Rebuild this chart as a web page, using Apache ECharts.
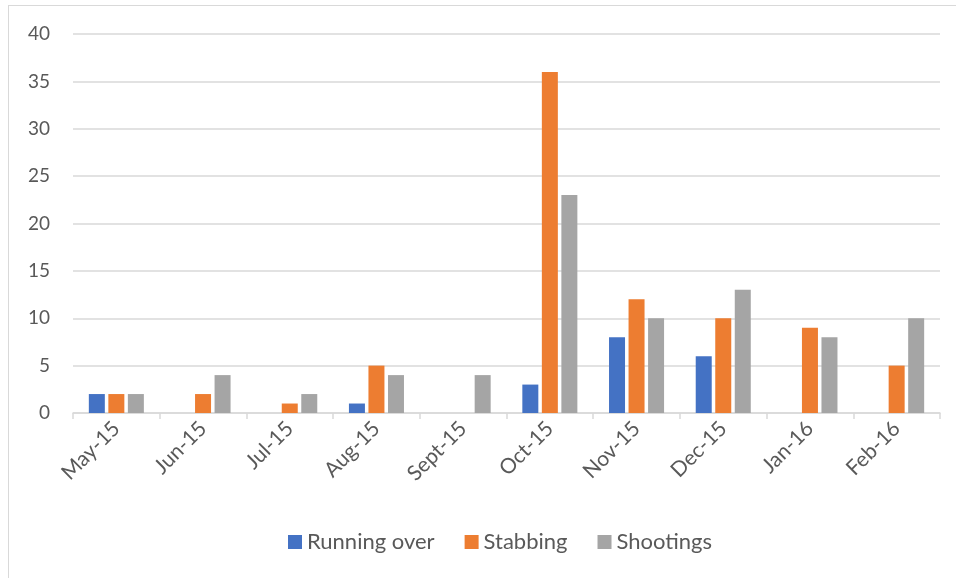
<!DOCTYPE html>
<html>
<head>
<meta charset="utf-8">
<script src="https://cdn.jsdelivr.net/npm/echarts@6/dist/echarts.min.js"></script>
<style>
  html, body { margin: 0; padding: 0; background: #fff; }
  #frame { position: absolute; left: 8px; top: 5px; width: 960px; height: 580px; border: 1px solid #d9d9d9; box-sizing: border-box; }
  #main { position: absolute; left: 0; top: 0; width: 956px; height: 578px; }
</style>
</head>
<body>
<div id="frame"></div>
<div id="main"></div>
<script>
const months = ["May-15", "Jun-15", "Jul-15", "Aug-15", "Sept-15", "Oct-15", "Nov-15", "Dec-15", "Jan-16", "Feb-16"];
const runningOver = [2, null, null, 1, null, 3, 8, 6, null, null];
const stabbing = [2, 2, 1, 5, null, 36, 12, 10, 9, 5];
const shootings = [2, 4, 2, 4, 4, 23, 10, 13, 8, 10];

const font = "Lato, 'Open Sans', sans-serif";
let myChart = echarts.init(document.getElementById("main"));
myChart.setOption({
  animation: false,
  textStyle: { fontFamily: font },
  grid: { left: 73, right: 16, top: 34, bottom: 165 },
  legend: {
    bottom: 20,
    left: 283,
    itemWidth: 14,
    itemHeight: 14,
    itemGap: 30,
    icon: "rect",
    textStyle: { fontSize: 22, color: "#595959", fontFamily: font },
  },
  xAxis: {
    type: "category",
    data: months,
    axisLine: { lineStyle: { color: "#d9d9d9", width: 1.5 } },
    axisTick: { show: true, length: 6, lineStyle: { color: "#d9d9d9", width: 1.5 } },
    axisLabel: { rotate: 45, fontSize: 21, color: "#595959", margin: 12, fontFamily: font },
  },
  yAxis: {
    type: "value",
    min: 0,
    max: 40,
    interval: 5,
    axisLine: { show: false },
    axisTick: { show: false },
    axisLabel: { fontSize: 19, color: "#595959", margin: 23, fontFamily: font },
    splitLine: { lineStyle: { color: "#d9d9d9", width: 1.5 } },
  },
  series: [
    { name: "Running over", type: "bar", data: runningOver, barWidth: 16, barGap: "22%", itemStyle: { color: "#4472C4" } },
    { name: "Stabbing", type: "bar", data: stabbing, barWidth: 16, barGap: "22%", itemStyle: { color: "#ED7D31" } },
    { name: "Shootings", type: "bar", data: shootings, barWidth: 16, barGap: "22%", itemStyle: { color: "#A5A5A5" } },
  ],
});
</script>
</body>
</html>
